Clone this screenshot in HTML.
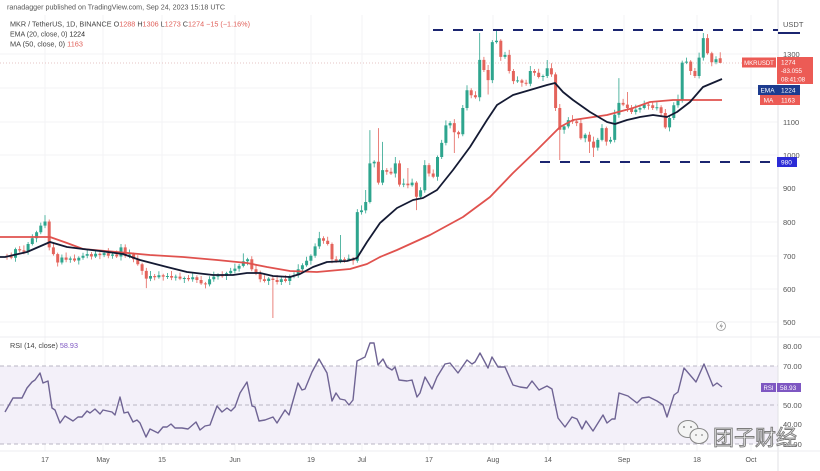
<!DOCTYPE html>
<html><head><meta charset="utf-8">
<style>
html,body{margin:0;padding:0;background:#fff;}
svg{display:block;font-family:"Liberation Sans","Noto Sans CJK SC",sans-serif;}
</style></head><body>
<svg width="820" height="471" viewBox="0 0 820 471" xmlns="http://www.w3.org/2000/svg">
<rect width="820" height="471" fill="#fff"/>
<!-- grid -->
<g stroke="#f3f3f6" stroke-width="1">
<line x1="0" x2="778" y1="54" y2="54"/><line x1="0" x2="778" y1="88" y2="88"/><line x1="0" x2="778" y1="122" y2="122"/><line x1="0" x2="778" y1="155" y2="155"/><line x1="0" x2="778" y1="188" y2="188"/><line x1="0" x2="778" y1="222" y2="222"/><line x1="0" x2="778" y1="256" y2="256"/><line x1="0" x2="778" y1="289" y2="289"/><line x1="0" x2="778" y1="322" y2="322"/>
<line x1="45" x2="45" y1="15" y2="451"/><line x1="103" x2="103" y1="15" y2="451"/><line x1="162" x2="162" y1="15" y2="451"/><line x1="235" x2="235" y1="15" y2="451"/><line x1="311" x2="311" y1="15" y2="451"/><line x1="362" x2="362" y1="15" y2="451"/><line x1="429" x2="429" y1="15" y2="451"/><line x1="493" x2="493" y1="15" y2="451"/><line x1="548" x2="548" y1="15" y2="451"/><line x1="624" x2="624" y1="15" y2="451"/><line x1="697" x2="697" y1="15" y2="451"/><line x1="751" x2="751" y1="15" y2="451"/>
</g>
<!-- RSI band -->
<rect x="0" y="366" width="778" height="78" fill="#f3f0f9"/>
<g stroke="#b9b6c4" stroke-width="1" stroke-dasharray="4 3">
<line x1="0" x2="778" y1="366" y2="366"/><line x1="0" x2="778" y1="405" y2="405"/><line x1="0" x2="778" y1="444" y2="444"/>
</g>
<!-- separators -->
<line x1="778" x2="778" y1="0" y2="471" stroke="#e2e2e6" stroke-width="1"/>
<line x1="0" x2="820" y1="337" y2="337" stroke="#ececf0" stroke-width="1"/>
<line x1="0" x2="820" y1="451" y2="451" stroke="#ececf0" stroke-width="1"/>
<!-- last price dotted line -->
<line x1="0" x2="778" y1="63" y2="63" stroke="#e6c4c4" stroke-width="1" stroke-dasharray="1 2"/>

<!-- candles: green wicks -->
<path fill="none" stroke="#2ea58e" stroke-width="0.8" d="M15.5 247.6V261.8M28.1 242V254.8M32.3 234.3V245.5M36.6 230.8V242.3M40.8 222.6V234.3M45 215.1V228.1M61.9 254.5V264.5M70.3 256.5V262.8M78.8 256.3V264.5M83 252.8V259.8M87.2 249.1V258.3M95.6 249.8V258M104.1 250.1V257.1M112.5 252.5V258.8M121 244V260.5M129.4 249.5V258.3M150.5 271V281.1M158.9 271.3V278.8M167.4 273V279M175.8 274.6V280.6M184.3 276.5V283M192.7 272.3V281.8M209.6 276.3V286.4M213.8 271.6V281.8M218 273.3V279.6M226.5 271.8V280M230.7 267.9V275.3M234.9 263.6V273.4M239.1 263.9V271.6M243.3 253.4V267.4M247.6 257.7V265.2M268.7 277.1V285M281.3 277.3V285M289.8 274.5V285M294 272.3V278.3M298.2 264.2V277.8M302.4 263.2V272.2M306.6 256.8V266.7M310.9 254.3V264.8M315.1 243.4V257.8M319.3 231.9V248.9M340.4 235V263.3M348.8 254.5V261.3M357.3 209.1V262.8M361.5 205.4V214.6M365.7 190V213.4M369.9 130.1V203.5M374.2 160.2V167.4M382.6 141.9V185.1M395.3 157V177.5M403.7 178.6V187.1M412.1 178.6V186.7M420.6 187.3V198.7M424.8 160.1V192.8M437.5 155.5V180.8M441.7 139.9V159M445.9 120.4V145.4M450.1 121.1V128.4M462.8 105V136.2M467 85.2V110.5M479.7 33V101.2M492.3 40.1V83.1M496.5 30V43.6M505 51.9V58.9M517.6 76.4V82.9M530.3 66V86.3M543 74.5V81M547.2 60V78M564.1 124.9V133.8M568.3 117.1V128.4M585.2 133.3V142.2M597.8 137.9V150.6M602 124.1V141.4M610.5 136.9V143.6M614.7 109.7V142.4M618.9 78.1V117.7M635.8 104.6V114.5M640 106V112.6M644.2 100.6V109.5M656.9 102.3V110.5M669.6 116.5V131.4M673.8 102.3V120M678 94.6V107.8M682.2 60.6V102.6M686.4 57.6V64.1M699.1 52.6V78.5M703.3 33V60.6M716 56.3V64.3"/>
<!-- candles: green bodies -->
<path fill="none" stroke="#2ea58e" stroke-width="3" d="M15.5 249.1V257.8M28.1 244V251.8M32.3 238.3V244M36.6 232.3V238.3M40.8 225.6V232.3M45 221.5V225.6M61.9 257.5V262.5M70.3 258.5V259.8M78.8 257.8V260.5M83 255.8V257.8M87.2 254.1V255.8M95.6 253.8V256.5M104.1 253.1V255.1M112.5 254.5V255.8M121 247.4V256.5M129.4 254.5V255.8M150.5 276V278.6M158.9 275.3V277.3M167.4 276V277M175.8 276.6V277.6M184.3 278V279M192.7 277.3V279.3M209.6 279.3V284.4M213.8 276.6V279.3M218 275.3V276.6M226.5 273.3V276M230.7 270.9V273.3M234.9 268.6V270.9M239.1 265.9V268.6M243.3 261.2V265.9M247.6 259.2V261.2M268.7 278.6V281M281.3 279.3V282M289.8 276V281M294 275.3V276.3M298.2 269.2V275.3M302.4 265.2V269.2M306.6 260.8V265.2M310.9 255.8V260.8M315.1 246.4V255.8M319.3 238.3V246.4M340.4 259.2V260.8M348.8 258.5V259.8M357.3 212.1V260.8M361.5 210.4V212.1M365.7 202V210.4M369.9 163.4V202M374.2 161.7V163.4M382.6 170.1V182.6M395.3 163.4V173.5M403.7 183.6V184.6M412.1 182.6V185.2M420.6 190.3V196.7M424.8 165.1V190.3M437.5 157V176.8M441.7 142.9V157M445.9 125.4V142.9M450.1 123.1V125.4M462.8 108V134.2M467 90.2V108M479.7 59.9V97.2M492.3 42.1V80.1M496.5 40.8V42.1M505 54.9V56.9M517.6 80.4V81.4M530.3 71V83.8M543 76V77M547.2 68.3V76M564.1 126.4V129.8M568.3 120.1V126.4M585.2 134.8V138.2M597.8 139.9V147.6M602 128.1V139.9M610.5 139.9V141.6M614.7 114.7V139.9M618.9 102.9V114.7M635.8 109.6V112M640 108V109.6M644.2 104.6V108M656.9 107.3V108.3M669.6 118V127.4M673.8 105.3V118M678 99.6V105.3M682.2 62.6V99.6M686.4 61.6V62.6M699.1 57.6V76M703.3 38.1V57.6M716 59.2V62.3"/>
<!-- candles: red wicks -->
<path fill="none" stroke="#e4645c" stroke-width="0.8" d="M7 253.8V259.8M11.2 252.5V259.3M19.7 246.1V252.4M23.9 245.4V254.3M49.2 219.5V250.4M53.4 243.4V255.6M57.7 252.6V266.5M66.1 252.5V262.3M74.5 254.5V262M91.4 252.1V259.5M99.9 252.3V259.1M108.3 248.1V258.3M116.7 250.5V258M125.2 244.4V257.8M133.6 252.5V262.2M137.8 255.2V265.7M142.1 262.7V274.9M146.3 267.9V288.1M154.7 274V280.3M163.2 273.8V280.6M171.6 271V280.1M180 272.6V280.1M188.5 275V281.3M196.9 275.3V283M201.1 276V284.9M205.4 281.9V288.4M222.2 271.3V277.8M251.8 256.2V271.2M256 264.2V275.1M260.2 270.6V282.3M264.4 275.3V282.5M272.9 275.6V318M277.1 275V284.5M285.5 275.3V282.5M323.5 236.3V243.7M327.7 236.7V245.5M332 242.5V263.2M336.2 256.2V262.8M344.6 257.2V262.8M353.1 257V264.8M378.4 128.1V184.6M386.8 168.1V174.8M391 167.8V175M399.5 160.4V186.6M407.9 168V188.2M416.4 181.1V210.1M429 163.1V176.5M433.2 169.5V178.3M454.3 119.1V153M458.6 130.7V138.2M471.2 88.2V98.2M475.4 91.2V98.7M483.9 56.9V72M488.1 65V94.5M500.8 39.3V60.9M509.2 49.9V73.5M513.4 69V84.1M521.9 78.9V86.8M526.1 79.8V85.8M534.5 69V75.7M538.7 68.7V78.5M551.4 63.3V76.9M555.6 72.4V111M559.8 104V160M572.5 115.1V123.9M576.7 119.4V126.1M580.9 119.1V139.7M589.4 131.8V153M593.6 136.6V157M606.3 126.6V145.6M623.1 98.9V106.1M627.4 92V112M631.6 105V114M648.5 103.1V109.6M652.7 102.3V110M661.1 105.3V116M665.3 109V128.9M690.7 60.1V75M694.9 68V78M707.5 34.1V54.7M711.8 51.7V66.3M720.2 52.2V63.3"/>
<!-- candles: red bodies -->
<path fill="none" stroke="#e4645c" stroke-width="3" d="M7 255.8V256.8M11.2 256.5V257.8M19.7 249.1V250.4M23.9 250.4V251.8M49.2 221.5V247.4M53.4 247.4V254.1M57.7 254.1V262.5M66.1 257.5V259.8M74.5 258.5V260.5M91.4 254.1V256.5M99.9 253.8V255.1M108.3 253.1V255.8M116.7 254.5V256.5M125.2 247.4V255.8M133.6 254.5V259.2M137.8 259.2V264.2M142.1 264.2V270.9M146.3 270.9V278.6M154.7 276V277.3M163.2 275.3V276.6M171.6 276V277.6M180 276.6V278.6M188.5 278V279.3M196.9 277.3V280M201.1 280V283.4M205.4 283.4V284.4M222.2 275.3V276.3M251.8 259.2V269.2M256 269.2V272.6M260.2 272.6V279.3M264.4 279.3V281M272.9 278.6V280M277.1 280V282M285.5 279.3V281M323.5 238.3V240.7M327.7 240.7V244M332 244V259.2M336.2 259.2V260.8M344.6 259.2V260.2M353.1 258.5V260.8M378.4 161.7V182.6M386.8 170.1V171.8M391 171.8V173.5M399.5 163.4V184.6M407.9 183.6V185.2M416.4 182.6V196.7M429 165.1V173.5M433.2 173.5V176.8M454.3 123.1V132.2M458.6 132.2V134.2M471.2 90.2V95.2M475.4 95.2V97.2M483.9 59.9V70M488.1 70V80.1M500.8 40.8V56.9M509.2 54.9V71M513.4 71V81.1M521.9 80.4V82.8M526.1 82.8V83.8M534.5 71V72.7M538.7 72.7V77M551.4 68.3V74.4M555.6 74.4V108M559.8 108V129.8M572.5 120.1V121.4M576.7 121.4V123.1M580.9 123.1V138.2M589.4 134.8V141.6M593.6 141.6V147.6M606.3 128.1V141.6M623.1 102.9V104.6M627.4 104.6V108M631.6 108V112M648.5 104.6V105.6M652.7 105.3V108M661.1 107.3V113M665.3 113V127.4M690.7 61.6V71M694.9 71V76M707.5 38.1V53.2M711.8 53.2V62.3M720.2 58.2V62.9"/>

<!-- MA 50 -->
<polyline fill="none" stroke="#e0524e" stroke-width="1.8" stroke-linejoin="round" points="0,237 33,237 50,237 67,243 83,249 117,252 150,255 183,257 217,260 247,263 267,267 290,271 317,272 350,269 367,264 380,257 397,250 430,235 463,217 490,197 513,173 537,150 560,127 573,120 607,115 633,108 650,102 673,100 722,100"/>
<!-- EMA 20 -->
<polyline fill="none" stroke="#141a33" stroke-width="1.8" stroke-linejoin="round" points="0,257 5,257 27,252 50,242 67,247 83,249 100,251 123,254 140,260 167,267 187,272 213,275 233,275 247,273 260,273 273,276 290,277 300,274 313,267 327,262 347,261 357,258 367,242 380,223 397,208 413,200 423,198 437,190 453,170 470,147 487,120 497,105 513,95 530,90 547,85 555,83 563,92 573,100 590,112 607,122 615,124 627,120 640,117 653,115 667,117 677,112 690,102 703,87 722,79"/>

<!-- resistance/support dashed -->
<g stroke="#1b2570" stroke-width="2" stroke-dasharray="10 10">
<line x1="433" x2="778" y1="30" y2="30"/>
<line x1="540" x2="778" y1="162" y2="162"/>
</g>
<line x1="778" x2="800" y1="33" y2="33" stroke="#1b2570" stroke-width="2"/>

<!-- RSI line -->
<polyline fill="none" stroke="#6f6494" stroke-width="1.4" stroke-linejoin="round" points="5,412 13,398 22,398 27,388 32,382 35,380 40,373 43,383 48,381 52,408 55,410 60,423 65,416 73,421 78,417 82,417 87,411 90,413 95,409 100,414 103,410 112,412 115,415 120,397 124,413 128,412 133,422 137,420 140,423 146,437 150,429 158,433 163,427 167,427 171,424 175,428 182,428 188,429 196,422 200,430 205,426 210,425 217,406 222,412 227,408 231,411 235,407 240,393 247,382 252,406 255,407 259,421 265,420 273,417 277,423 285,410 289,415 298,383 302,390 305,389 312,372 319,359 327,373 332,401 336,393 340,399 345,400 349,405 353,400 357,361 365,357 370,343 374,343 378,365 383,359 387,367 392,370 395,367 399,380 407,381 412,380 417,397 420,393 425,377 432,389 437,377 445,364 450,363 458,373 467,360 472,364 475,362 480,353 488,368 492,357 498,367 505,367 513,385 520,387 527,388 532,381 539,390 547,386 552,389 558,418 565,427 572,417 577,419 582,429 586,421 593,431 603,415 607,423 612,419 615,419 619,393 628,396 637,403 642,398 649,397 657,401 663,405 667,417 674,395 678,392 684,368 696,382 704,364 713,386 717,383 722,387"/>

<!-- header text -->
<text x="7" y="9.5" font-size="7" fill="#555" textLength="218" lengthAdjust="spacingAndGlyphs">ranadagger published on TradingView.com, Sep 24, 2023 15:18 UTC</text>
<text x="10" y="26.5" font-size="7.2" fill="#444" textLength="240" lengthAdjust="spacingAndGlyphs">MKR / TetherUS, 1D, BINANCE  O<tspan fill="#e0605a">1288</tspan>  H<tspan fill="#e0605a">1306</tspan>  L<tspan fill="#e0605a">1273</tspan>  C<tspan fill="#e0605a">1274</tspan>  <tspan fill="#e0605a">−15 (−1.16%)</tspan></text>
<text x="10" y="36.5" font-size="7.2" fill="#444" textLength="75" lengthAdjust="spacingAndGlyphs">EMA (20, close, 0)  <tspan fill="#222">1224</tspan></text>
<text x="10" y="46.5" font-size="7.2" fill="#444" textLength="73" lengthAdjust="spacingAndGlyphs">MA (50, close, 0)  <tspan fill="#e0605a">1163</tspan></text>
<text x="10" y="348" font-size="7" fill="#444" textLength="68" lengthAdjust="spacingAndGlyphs">RSI (14, close)  <tspan fill="#7e57c2">58.93</tspan></text>

<!-- price axis -->
<g font-size="7.5" fill="#555">
<text x="783" y="27">USDT</text>
<text x="783" y="57">1300</text>
<text x="783" y="125">1100</text>
<text x="783" y="158">1000</text>
<text x="783" y="191">900</text>
<text x="783" y="225">800</text>
<text x="783" y="259">700</text>
<text x="783" y="292">600</text>
<text x="783" y="325">500</text>
<text x="783" y="349">80.00</text>
<text x="783" y="369">70.00</text>
<text x="783" y="408">50.00</text>
<text x="783" y="427">40.00</text>
<text x="783" y="447">30.00</text>
</g>

<!-- axis price labels -->
<rect x="742" y="57.5" width="34" height="10" fill="#ec5b55"/>
<text x="759" y="65" font-size="6" fill="#fff" text-anchor="middle">MKRUSDT</text>
<rect x="777" y="57" width="36" height="27" fill="#ec5b55"/>
<text x="781" y="64.5" font-size="6.5" fill="#fff">1274</text>
<text x="781" y="73" font-size="6.2" fill="#fff">-83.055</text>
<text x="781" y="81.5" font-size="6.2" fill="#fff">08:41:08</text>
<rect x="758" y="85" width="19" height="10" fill="#1d3c8f"/>
<text x="767.5" y="92.5" font-size="6.5" fill="#fff" text-anchor="middle">EMA</text>
<rect x="777" y="85" width="23" height="10" fill="#1d3c8f"/>
<text x="781" y="92.5" font-size="6.5" fill="#fff">1224</text>
<rect x="760" y="95" width="17" height="10" fill="#ec5b55"/>
<text x="768.5" y="102.5" font-size="6.5" fill="#fff" text-anchor="middle">MA</text>
<rect x="777" y="95" width="23" height="10" fill="#ec5b55"/>
<text x="781" y="102.5" font-size="6.5" fill="#fff">1163</text>
<rect x="777" y="157" width="20" height="10" fill="#2b2bd6"/>
<text x="781" y="164.5" font-size="6.5" fill="#fff">980</text>
<rect x="761" y="383" width="15" height="9" fill="#7e57c2"/>
<text x="768.5" y="390" font-size="6" fill="#fff" text-anchor="middle">RSI</text>
<rect x="777" y="383" width="24" height="9" fill="#7e57c2"/>
<text x="780" y="390" font-size="6.5" fill="#fff">58.93</text>

<!-- date axis -->
<g font-size="7" fill="#555" text-anchor="middle">
<text x="45" y="462">17</text><text x="103" y="462">May</text><text x="162" y="462">15</text><text x="235" y="462">Jun</text><text x="311" y="462">19</text><text x="362" y="462">Jul</text><text x="429" y="462">17</text><text x="493" y="462">Aug</text><text x="548" y="462">14</text><text x="624" y="462">Sep</text><text x="697" y="462">18</text><text x="751" y="462">Oct</text>
</g>

<!-- lightning icon -->
<circle cx="721" cy="326" r="4.5" fill="#fff" stroke="#999" stroke-width="0.8"/>
<path d="M722,322.5 L719.5,326.5 L721.5,326.5 L720.5,329.5 L723,325.5 L721,325.5 Z" fill="#888"/>

<!-- watermark -->
<g stroke="#8a8a8a" stroke-width="1.1" fill="#f4f4f4">
<ellipse cx="688" cy="429" rx="10" ry="8.5"/>
<ellipse cx="699" cy="436" rx="9" ry="7.5"/>
</g>
<g fill="#8a8a8a"><circle cx="684" cy="427" r="1"/><circle cx="691" cy="427" r="1"/><circle cx="696" cy="435" r="0.9"/><circle cx="702" cy="435" r="0.9"/></g>
<text x="713" y="445" font-size="21" fill="#ededed" stroke="#7c7c7c" stroke-width="0.9" font-family="'Noto Sans CJK SC','WenQuanYi Zen Hei',sans-serif">团子财经</text>
</svg>
</body></html>
